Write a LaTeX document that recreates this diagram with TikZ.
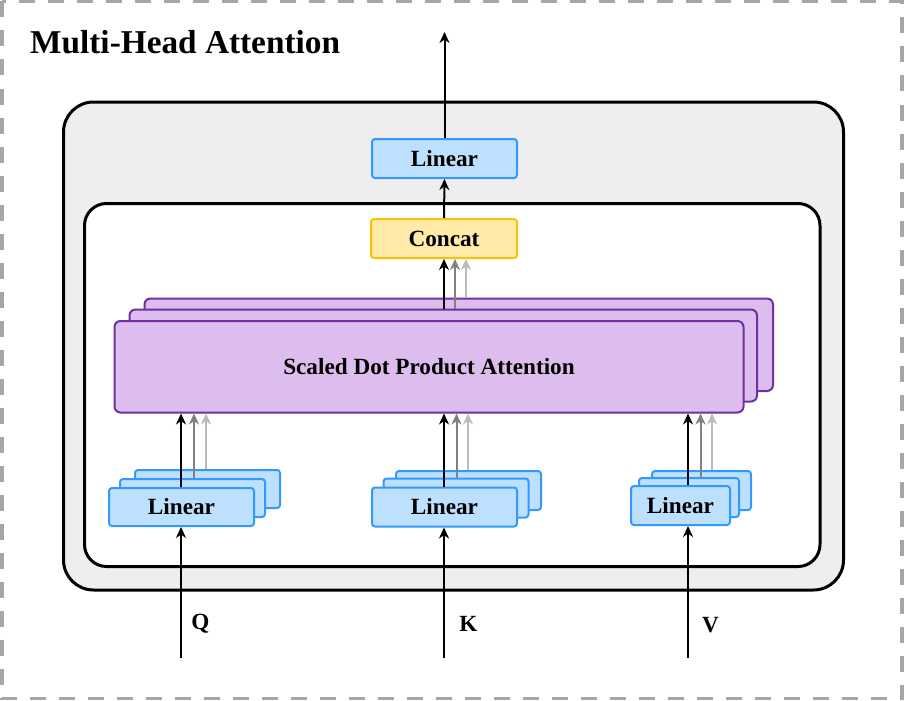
\documentclass[tikz,border=0pt]{standalone}
\usepackage{fontspec}
\setmainfont{Liberation Serif}
\usetikzlibrary{arrows.meta,calc}
\definecolor{lbfill}{RGB}{189,224,254}
\definecolor{lbdraw}{RGB}{51,153,255}
\definecolor{ccfill}{RGB}{255,234,167}
\definecolor{ccdraw}{RGB}{255,192,0}
\definecolor{spfill}{RGB}{220,189,238}
\definecolor{spdraw}{RGB}{112,48,160}
\definecolor{boxgray}{RGB}{238,238,238}
\definecolor{dashgray}{RGB}{166,166,166}
\definecolor{midgray}{RGB}{128,128,128}
\definecolor{ltgray}{RGB}{187,187,187}
\begin{document}
\begin{tikzpicture}[x=1pt,y=-1pt,
  txt/.style={font=\fontsize{23.2}{27}\selectfont\bfseries},
  lin/.style={draw=lbdraw,fill=lbfill,line width=2pt,rounded corners=3pt,inner sep=0pt,txt},
  cat/.style={draw=ccdraw,fill=ccfill,line width=2pt,rounded corners=3pt,inner sep=0pt,txt},
  sdpa/.style={draw=spdraw,fill=spfill,line width=2pt,rounded corners=6pt,inner sep=0pt,txt},
  container/.style={draw=black,line width=3pt,inner sep=0pt},
  arr/.style={line width=2pt,-{Stealth[length=11pt,width=10pt,inset=3.5pt]}},
  arrmid/.style={arr,draw=midgray},
  arrlt/.style={arr,draw=ltgray},
  lbl/.style={txt,inner sep=0pt}]
\useasboundingbox (0,0) rectangle (905,701);
\draw[dashgray,line width=3.5pt,dash pattern=on 16pt off 13pt] (2,1.5) rectangle (902,698.5);
\node[anchor=base west,inner sep=0pt,font=\fontsize{33.3}{38}\selectfont\bfseries] (title) at (30,54) {Multi-Head Attention};
% containers
\node[container,fill=boxgray,rounded corners=30pt,minimum width=780,minimum height=488] (gbox) at (453.5,346) {};
\node[container,fill=white,rounded corners=22pt,minimum width=735.5,minimum height=363] (wbox) at (452.25,385) {};
% top
\node[lin,minimum width=145,minimum height=39] (lt) at (444.5,158.5) {Linear};
\node[cat,minimum width=146,minimum height=39] (cc) at (444,238.5) {Concat};
% SDPA stack
\node[sdpa,minimum width=628.5,minimum height=92.5] (s3) at (458.75,344.75) {};
\node[sdpa,minimum width=627.5,minimum height=92] (s2) at (443.25,355.5) {};
\node[sdpa,minimum width=629,minimum height=91.5] (s1) at (429,366.75) {Scaled Dot Product Attention};
% Q stack
\node[lin,minimum width=145,minimum height=38] (q3) at (207.5,489) {};
\node[lin,minimum width=145,minimum height=38] (q2) at (192.5,498) {};
\node[lin,minimum width=145,minimum height=38] (q1) at (181.5,507) {Linear};
% K stack
\node[lin,minimum width=145,minimum height=39] (k3) at (468.5,490.5) {};
\node[lin,minimum width=145,minimum height=39] (k2) at (456,498) {};
\node[lin,minimum width=145,minimum height=39] (k1) at (444.5,507) {Linear};
% V stack
\node[lin,minimum width=99,minimum height=39] (v3) at (701.5,490.5) {};
\node[lin,minimum width=100,minimum height=39] (v2) at (689,497.5) {};
\node[lin,minimum width=99,minimum height=39] (v1) at (680.5,505.5) {Linear};
% labels
\node[lbl] (ql) at (200.5,624) {Q};
\node[lbl] (kl) at (468.5,624) {K};
\node[lbl] (vl) at (710.5,625) {V};
% input coordinates
\coordinate (qin) at (181,658);
\coordinate (kin) at (444,658);
\coordinate (vin) at (688,658);
\coordinate (out) at (444.5,32);
% arrows: inputs
\draw[arr] (qin) -- (qin |- q1.south);
\draw[arr] (kin) -- (kin |- k1.south);
\draw[arr] (vin) -- (vin |- v1.south);
% Q to SDPA
\draw[arrlt] ([xshift=-1.5]q3.north) -- ([xshift=-1.5]q3.north |- s1.south);
\draw[arrmid] ([xshift=1.5]q2.north) -- ([xshift=1.5]q2.north |- s1.south);
\draw[arr] ([xshift=-0.5]q1.north) -- ([xshift=-0.5]q1.north |- s1.south);
% K to SDPA
\draw[arrlt] ([xshift=-0.5]k3.north) -- ([xshift=-0.5]k3.north |- s1.south);
\draw[arrmid] ([xshift=0.5]k2.north) -- ([xshift=0.5]k2.north |- s1.south);
\draw[arr] ([xshift=-0.5]k1.north) -- ([xshift=-0.5]k1.north |- s1.south);
% V to SDPA
\draw[arrlt] ([xshift=10.5]v3.north) -- ([xshift=10.5]v3.north |- s1.south);
\draw[arrmid] ([xshift=11.5]v2.north) -- ([xshift=11.5]v2.north |- s1.south);
\draw[arr] ([xshift=7.5]v1.north) -- ([xshift=7.5]v1.north |- s1.south);
% SDPA to Concat
\draw[arrlt] ([xshift=22]cc.south |- s3.north) -- ([xshift=22]cc.south);
\draw[arrmid] ([xshift=11]cc.south |- s2.north) -- ([xshift=11]cc.south);
\draw[arr] (cc.south |- s2.north) -- (cc.south);
% Concat to Linear, Linear to output
\draw[arr] (cc.north) -- (lt.south);
\draw[arr] (lt.north) -- (out);
\end{tikzpicture}
\end{document}
